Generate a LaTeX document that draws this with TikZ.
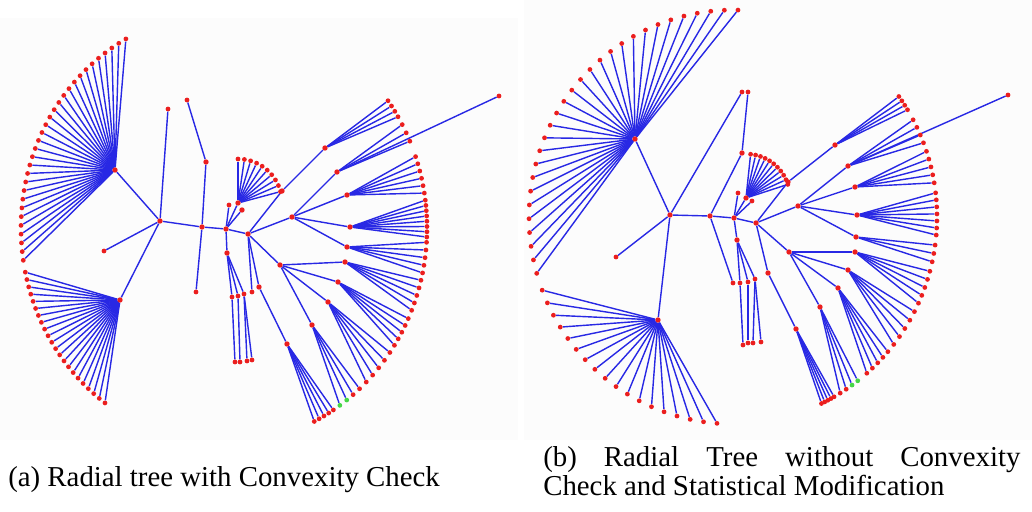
\documentclass[tikz,border=0pt]{standalone}
\usepackage{fontspec}
\setmainfont{Liberation Serif}
\usepackage{xcolor}
\usepackage{tikz}
\usetikzlibrary{calc}

\definecolor{treeblue}{RGB}{40,40,228}
\definecolor{treered}{RGB}{235,30,30}
\definecolor{treegreen}{RGB}{70,215,70}
\definecolor{panelbg}{RGB}{252,252,252}

\pgfdeclarelayer{bg}
\pgfsetlayers{bg,main}

% fan of leaves on an arc: hub, prefix, centre, x radius, y radius, first angle, last angle, count
\newcommand{\leaffan}[8]{%
  \foreach \k in {1,...,#8}{%
    \pgfmathsetmacro{\fanang}{(#6)+((#7)-(#6))*(\k-1)/max(#8-1,1)}
    \node[leaf] (#2-\k) at ($(#3)+(\fanang:#4 and #5)$) {};
    \begin{pgfonlayer}{bg}
      \draw[link] (#1) -- (#2-\k);
    \end{pgfonlayer}
  }%
}

\begin{document}
\begin{tikzpicture}[
  x=0.025cm, y=-0.025cm,
  link/.style={draw=treeblue, line width=1pt},
  leaf/.style={circle, fill=treered, inner sep=0pt, minimum size=3.4pt},
  hub/.style={leaf, minimum size=3.8pt},
  green leaf/.style={leaf, fill=treegreen},
  caption/.style={inner sep=0pt, font=\fontsize{20.5}{20.6}\selectfont}
]
\useasboundingbox (0,0) rectangle (1032,512);

\begin{pgfonlayer}{bg}
  \fill[panelbg] (0,18) rectangle (518,440);
  \fill[panelbg] (524,0) rectangle (1032,440);
\end{pgfonlayer}

% ---------------- (a) with convexity check ----------------
\coordinate (a-o) at (224,228);

% Spine
\node[hub] (a-c1) at (160,221) {};
\node[hub] (a-c2) at (202,227) {};
\node[hub] (a-c3) at (226,229) {};
\node[hub] (a-c4) at (248,234) {};

% Left part
\node[hub] (a-h1) at (115,170) {};
\node[hub] (a-h2) at (120,300) {};
\node[leaf] (a-l1) at (104,251) {};
\node[leaf] (a-t1) at (168,109) {};
\node[leaf] (a-t2) at (187,100) {};
\node[hub] (a-n2) at (206,162) {};
\node[leaf] (a-b2) at (196,292) {};

% Middle
\node[hub] (a-sf) at (238,203) {};
\node[leaf] (a-s1) at (229,205) {};
\node[hub] (a-s2) at (242,210) {};
\node[hub] (a-d1) at (227,253) {};
\node[leaf] (a-m1) at (232,297) {};
\node[leaf] (a-m2) at (238,296) {};
\node[leaf] (a-m3) at (244,294) {};
\node[leaf] (a-q1) at (235,362) {};
\node[leaf] (a-q2) at (240,362) {};
\node[leaf] (a-q3) at (247,361) {};
\node[leaf] (a-q4) at (252,360) {};
\node[leaf] (a-v1) at (252,292) {};

% Right part
\node[hub] (a-r1) at (292,217) {};
\node[hub] (a-p1) at (282,191) {};
\node[hub] (a-r2) at (280,265) {};
\node[hub] (a-w1) at (259,287) {};
\node[hub] (a-fe) at (325,148) {};
\node[hub] (a-fa) at (337,172) {};
\node[hub] (a-fb) at (347,195) {};
\node[hub] (a-fc) at (350,227) {};
\node[hub] (a-fd) at (347,247) {};
\node[hub] (a-ff) at (345,262) {};
\node[hub] (a-fg) at (338,282) {};
\node[hub] (a-fh) at (328,302) {};
\node[hub] (a-fi) at (312,325) {};
\node[hub] (a-fj) at (287,344) {};
\node[leaf] (a-long) at (499,96) {};
\node[green leaf] (a-g1) at ($(a-o)+(52.8:203 and 216)$) {};
\node[green leaf] (a-g2) at ($(a-o)+(55.2:203 and 216)$) {};

\begin{pgfonlayer}{bg}
\foreach \u/\v in {a-c1/a-c2, a-c2/a-c3, a-c3/a-c4, a-c1/a-h1, a-c1/a-h2,
    a-c1/a-l1, a-c1/a-t1, a-t2/a-n2, a-n2/a-c2, a-c2/a-b2, a-c3/a-sf,
    a-c3/a-s1, a-c3/a-s2, a-c3/a-d1, a-d1/a-m1, a-d1/a-m2, a-d1/a-m3,
    a-m1/a-q1, a-m2/a-q2, a-m3/a-q3, a-m3/a-q4, a-c4/a-v1, a-c4/a-r1,
    a-c4/a-p1, a-c4/a-r2, a-c4/a-w1, a-w1/a-fj, a-p1/a-fe, a-r1/a-fa,
    a-r1/a-fb, a-r1/a-fc, a-r1/a-fd, a-r2/a-ff, a-r2/a-fg, a-r2/a-fh,
    a-r2/a-fi, a-fa/a-long, a-fi/a-g1, a-fi/a-g2}
  \draw[link] (\u) -- (\v);
\end{pgfonlayer}

% Fans of leaves
\leaffan{a-h1}{a-lh1}{a-o}{203}{216}{171.4}{241.1}{31}
\leaffan{a-h2}{a-lh2}{a-o}{203}{216}{168.2}{125.9}{22}
\leaffan{a-sf}{a-lsf}{a-sf}{44}{44}{-90}{-15}{10}
\leaffan{a-fe}{a-le}{a-o}{203}{216}{-36.1}{-31}{4}
\leaffan{a-fa}{a-la}{a-o}{203}{216}{-28.6}{-23.7}{3}
\leaffan{a-fb}{a-lb}{a-o}{203}{216}{-19.3}{-9.3}{6}
\leaffan{a-fc}{a-lc}{a-o}{203}{216}{-7.4}{2.4}{8}
\leaffan{a-fd}{a-ld}{a-o}{203}{216}{3.8}{12}{5}
\leaffan{a-ff}{a-lf}{a-o}{203}{216}{14}{22.4}{5}
\leaffan{a-fg}{a-lg}{a-o}{203}{216}{24.8}{32.9}{5}
\leaffan{a-fh}{a-lh}{a-o}{203}{216}{35.2}{45.5}{5}
\leaffan{a-fi}{a-li}{a-o}{203}{216}{48.1}{50.5}{2}
\leaffan{a-fj}{a-lj}{a-o}{203}{216}{57.4}{63.6}{5}

% ---------------- (b) without convexity check ----------------
\coordinate (b-o) at (733,217);

% Spine
\node[hub] (b-c1) at (670,215) {};
\node[hub] (b-c2) at (710,216) {};
\node[hub] (b-c3) at (734,218) {};
\node[hub] (b-c4) at (756,223) {};

% Left part
\node[hub] (b-k1) at (635,139) {};
\node[hub] (b-k2) at (658,320) {};
\node[leaf] (b-l1) at (616,257) {};
\node[leaf] (b-t1) at (742,92) {};
\node[leaf] (b-t2) at (748,92) {};
\node[hub] (b-n2) at (742,153) {};
\node[leaf] (b-v0) at (733,283) {};

% Middle
\node[hub] (b-sf) at (746,198) {};
\node[leaf] (b-s1) at (738,193) {};
\node[leaf] (b-s2) at (752,201) {};
\node[hub] (b-d1) at (737,240) {};
\node[leaf] (b-m1) at (740,283) {};
\node[leaf] (b-m2) at (748,282) {};
\node[leaf] (b-m3) at (755,279) {};
\node[leaf] (b-q1) at (743,345) {};
\node[leaf] (b-q2) at (748,343) {};
\node[leaf] (b-q3) at (753,343) {};
\node[leaf] (b-q4) at (761,342) {};

% Right part
\node[hub] (b-w1) at (768,273) {};
\node[hub] (b-p1) at (788,182) {};
\node[hub] (b-r1) at (798,206) {};
\node[hub] (b-r2) at (789,252) {};
\node[hub] (b-fe) at (835,145) {};
\node[hub] (b-fa) at (848,166) {};
\node[hub] (b-fb) at (855,187) {};
\node[hub] (b-fc) at (857,215) {};
\node[hub] (b-fd) at (856,237) {};
\node[hub] (b-ff) at (855,252) {};
\node[hub] (b-fg) at (848,270) {};
\node[hub] (b-fh) at (838,288) {};
\node[hub] (b-fi) at (820,307) {};
\node[hub] (b-fj) at (796,329) {};
\node[leaf] (b-long) at (1008,95) {};
\node[green leaf] (b-g1) at ($(b-o)+(52.3:204 and 207)$) {};
\node[green leaf] (b-g2) at ($(b-o)+(54.3:204 and 207)$) {};

\begin{pgfonlayer}{bg}
\foreach \u/\v in {b-c1/b-c2, b-c2/b-c3, b-c3/b-c4, b-c1/b-k1, b-c1/b-k2,
    b-c1/b-l1, b-c1/b-t1, b-t2/b-n2, b-n2/b-c2, b-c2/b-v0, b-c3/b-sf,
    b-c3/b-s1, b-c3/b-s2, b-c3/b-d1, b-d1/b-m1, b-d1/b-m2, b-d1/b-m3,
    b-m1/b-q1, b-m2/b-q2, b-m3/b-q3, b-m3/b-q4, b-c4/b-w1, b-w1/b-fj,
    b-c4/b-p1, b-p1/b-fe, b-c4/b-r1, b-r1/b-fa, b-r1/b-fb, b-r1/b-fc,
    b-r1/b-fd, b-c4/b-r2, b-r2/b-ff, b-r2/b-fg, b-r2/b-fh, b-r2/b-fi,
    b-fa/b-long, b-fi/b-g1, b-fi/b-g2}
  \draw[link] (\u) -- (\v);
\end{pgfonlayer}

% Fans of leaves
\leaffan{b-k1}{b-lk1}{b-o}{204}{207}{164.2}{271.4}{29}
\leaffan{b-k2}{b-lk2}{b-o}{204}{207}{159.3}{94.5}{18}
\leaffan{b-sf}{b-lsf}{b-sf}{44}{44}{-84}{-18}{11}
\leaffan{b-fe}{b-le}{b-o}{204}{207}{-35.6}{-31.2}{4}
\leaffan{b-fa}{b-la}{b-o}{204}{207}{-28}{-21}{4}
\leaffan{b-fb}{b-lb}{b-o}{204}{207}{-18.5}{-9.5}{5}
\leaffan{b-fc}{b-lc}{b-o}{204}{207}{-6.7}{5}{7}
\leaffan{b-fd}{b-ld}{b-o}{204}{207}{7.8}{12.5}{3}
\leaffan{b-ff}{b-lf}{b-o}{204}{207}{15.2}{24.6}{5}
\leaffan{b-fg}{b-lg}{b-o}{204}{207}{27.2}{38}{5}
\leaffan{b-fh}{b-lh}{b-o}{204}{207}{40.6}{49}{5}
\leaffan{b-fi}{b-li}{b-o}{204}{207}{56.3}{58.3}{2}
\leaffan{b-fj}{b-lj}{b-o}{204}{207}{60.3}{64.3}{5}

% Captions
\node[caption, anchor=base west] (cap-a) at (8,486)
  {(a) Radial tree with Convexity Check};
\node[caption, anchor=north west, text width=11.925cm, align=justify]
  (cap-b) at (543,446)
  {(b) Radial Tree without Convexity\linebreak
   Check and Statistical Modification};

\end{tikzpicture}
\end{document}
